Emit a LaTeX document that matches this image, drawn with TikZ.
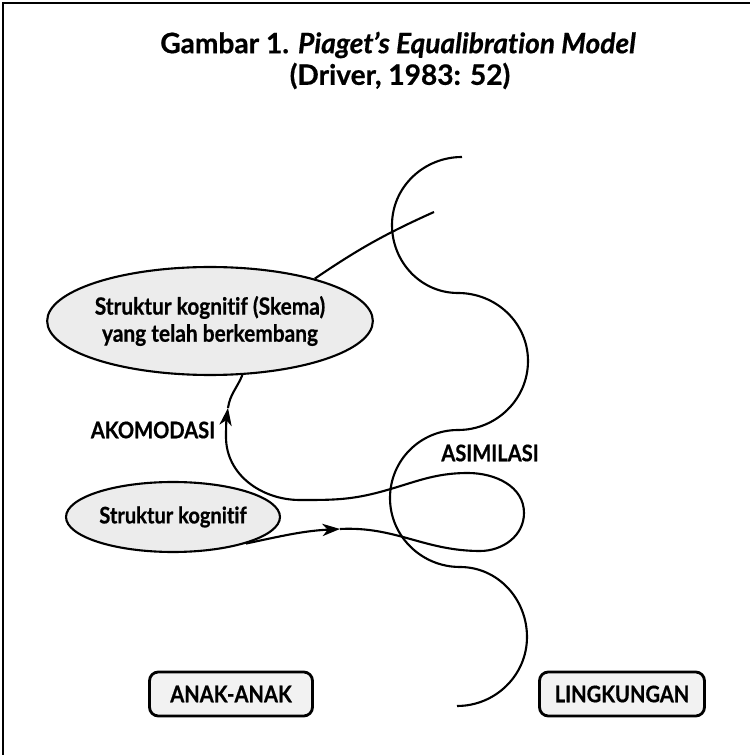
\documentclass[tikz,border=0pt]{standalone}
\usepackage{fontspec}
\setmainfont{Lato}[Ligatures={TeX,NoCommon}, BoldFeatures={FakeBold=0.6}, BoldItalicFeatures={FakeBold=0.6}]
\newfontfamily\sempit{Lato}[Ligatures={TeX,NoCommon}, FakeStretch=0.88, BoldFeatures={FakeBold=0.6}]
\usetikzlibrary{positioning,shapes.geometric,arrows.meta}

\tikzset{
  ovalbox/.style={ellipse, draw, line width=1.2pt, fill=gray!15, inner sep=0pt, align=center},
  tagbox/.style={draw, line width=1.6pt, rounded corners=5pt, fill=gray!10,
    minimum height=0.88cm, inner sep=2pt, font=\sempit\bfseries\fontsize{13}{15}\selectfont},
  lbl/.style={font=\sempit\bfseries\fontsize{13}{15}\selectfont},
  judul/.style={font=\bfseries\fontsize{16}{19}\selectfont},
  garis/.style={line width=1.2pt},
  panah/.style={-{Stealth[length=10pt,width=7pt,inset=3pt]}}
}

\begin{document}
\begin{tikzpicture}[x=0.02cm, y=0.02cm]
  \useasboundingbox (0,0) rectangle (750,755);
  \draw[line width=1.2pt] (3,0) -- (3,752) -- (750,752);

  % judul
  \node[judul] (judul1) at (398,710) {Gambar 1. \textit{Piaget's Equalibration Model}};
  \node[judul] (judul2) at (400,679) {(Driver, 1983: 52)};

  % skema
  \node[ovalbox, minimum width=6.12cm, minimum height=2.16cm,
    font=\sempit\bfseries\fontsize{13.5}{15.4}\selectfont] (skema) at (210,434)
    {Struktur kognitif (Skema)\\yang telah berkembang};
  \node[ovalbox, minimum width=4.28cm, minimum height=1.4cm,
    font=\sempit\bfseries\fontsize{13}{15}\selectfont] (kognitif) at (173,238)
    {Struktur kognitif};

  \node[lbl] (akomodasi) at (153,325) {AKOMODASI};
  \node[lbl] (asimilasi) at (490,302) {ASIMILASI};

  \node[tagbox, minimum width=3.26cm] (anak) at (231,61) {ANAK-ANAK};
  \node[tagbox, minimum width=3.3cm] (lingkungan) at (622,61) {LINGKUNGAN};

  % batas lingkungan
  \draw[garis] (462,598) to[out=180,in=90] (392,530) to[out=-90,in=180] (458,462)
    to[out=0,in=90] (528,394) to[out=-90,in=0] (458,325)
    to[out=180,in=90] (390,257) to[out=-90,in=180] (460,188)
    to[out=0,in=90] (527,118) to[out=-90,in=0] (457,49);

  \coordinate (U) at (434,543);
  \coordinate (L) at (340,226);
  \coordinate (K) at (228,347);

  \draw[garis] (skema.22) to[bend left=5] (U);
  \draw[garis, panah] (kognitif.-20) to[out=12,in=183] (L);
  \draw[garis, panah] (L) to[out=3,in=180] (480,204) to[out=0,in=-90] (524,242)
    to[out=90,in=0] (468,282) to[out=180,in=15] (380,263) to[out=195,in=0] (300,255)
    to[out=180,in=-90] (226,318) to[out=90,in=-98] (K);
  \draw[garis] (K) to[out=82,in=-112] (skema.-59);
\end{tikzpicture}
\end{document}
